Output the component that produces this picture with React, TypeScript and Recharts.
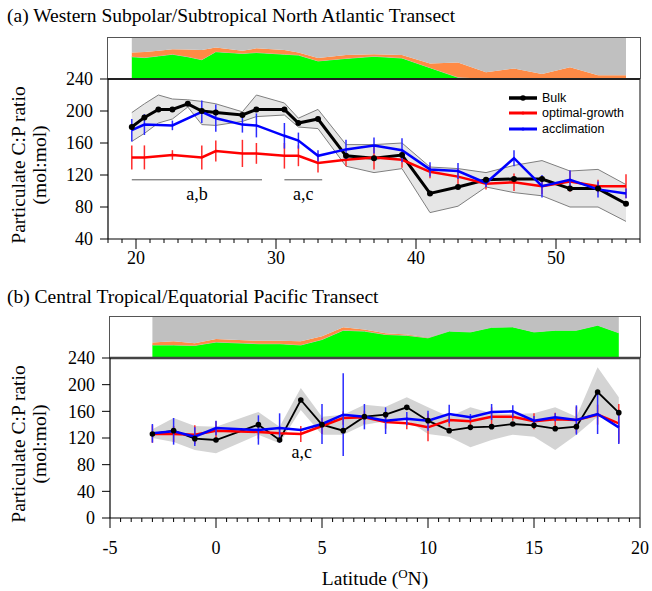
import React from 'react';
import {
  ComposedChart,
  AreaChart,
  Area,
  Line,
  XAxis,
  YAxis,
  ErrorBar,
  ReferenceLine,
  ReferenceDot,
  Legend,
} from 'recharts';

const SERIF = '"Liberation Serif", Tinos, "DejaVu Serif", "Noto Serif", serif';
const SANS = '"Liberation Sans", Arial, Helvetica, sans-serif';

// (a) Western Subpolar/Subtropical North Atlantic
const atlLat = [19.7, 20.6, 21.6, 22.6, 23.7, 24.7, 25.7, 27.6, 28.6, 30.6, 31.6, 33, 35, 37, 39, 41, 43, 45, 47, 49, 51, 53, 55];
const atlBulk = [180, 192, 202, 202, 209, 200, 198, 195, 202, 202, 185, 190, 144, 141, 145, 97, 105, 114, 115, 115, 103, 103, 84];
const atlBulkHi = [198, 209, 220, 215, 214, 212, 209, 199, 220, 210, 191, 202, 158, 158, 160, 130, 128, 123, 132, 138, 125, 127, 108];
const atlBulkLo = [162, 172, 185, 190, 205, 183, 182, 187, 193, 195, 180, 178, 131, 123, 128, 73, 81, 105, 98, 94, 80, 80, 62];
const atlOpt = [142, 142, null, 145, null, 142, 150, 147, 147, 144, 144, 135, 139, 142, 139, 124, 118, 109, 111, 106, 112, 106, 106];
const atlOptErr = [15, 15, null, 6, null, 15, 13, 17, 13, 16, 13, 12, 8, 15, 10, 8, 10, 7, 11, 10, 13, 8, 15];
const atlAcc = [176, 183, null, 182, null, 199, 191, 183, 182, 169, 163, 144, 152, 157, 151, 127, 125, 110, 141, 106, 114, 102, 97];
const atlAccErr = [14, 13, null, 6, null, 14, 17, 10, 15, 16, 10, 7, 12, 10, 15, 9, 10, 5, 10, 14, 12, 10, 6];
// community strip (% of total)
const atlGreen = [53, 51, 55, 59, 53, 46, 65, 61, 63, 59, 57, 43, 49, 54, 50, 27, 4, 0, 0, 0, 0, 0, 0];
const atlOrange = [10, 13, 12, 12, 17, 23, 10, 6, 10, 10, 6, 7, 8, 5, 7, 10, 35, 16, 25, 12, 28, 9, 9];

// (b) Central Tropical/Equatorial Pacific
const pacLat = [-3, -2, -1, 0, 2, 3, 4, 5, 6, 7, 8, 9, 10, 11, 12, 13, 14, 15, 16, 17, 18, 19];
const pacBulk = [126, 131, 119, 117, 140, 117, 177, 140, 131, 152, 155, 166, 146, 131, 136, 137, 141, 139, 134, 137, 189, 158];
const pacBulkHi = [133, 150, 138, 137, 159, 137, 195, 152, 155, 170, 167, 181, 166, 152, 166, 157, 156, 157, 166, 152, 226, 181];
const pacBulkLo = [120, 114, 102, 97, 125, 112, 162, 125, 125, 140, 145, 147, 126, 122, 106, 117, 125, 122, 102, 125, 152, 145];
const pacOpt = [126, 126, 125, 131, 129, 127, 126, 138, 150, 151, 144, 142, 136, 147, 145, 152, 152, 145, 148, 147, 155, 142];
const pacOptErr = [13, 12, 14, 14, 10, 10, 12, 12, 10, 10, 10, 9, 21, 10, 8, 14, 6, 12, 10, 20, 15, 29];
const pacAcc = [127, 130, 122, 135, 132, 135, 132, 141, 155, 152, 146, 149, 146, 156, 151, 159, 160, 146, 151, 147, 156, 136];
const pacAccErr = [14, 20, 14, 11, 22, 22, 0, 30, 62, 19, 20, 10, 15, 14, 5, 12, 9, 7, 6, 22, 30, 25];
const pacGreen = [31, 31, 30, 38, 34, 34, 31, 44, 66, 64, 56, 54, 48, 64, 62, 73, 74, 62, 66, 66, 78, 60];
const pacOrange = [6, 9, 5, 7, 7, 7, 9, 8, 7, 4, 3, 2, 1, 0, 0, 0, 0, 0, 0, 0, 0, 0];

const seriesNames = ['Bulk', 'optimal-growth', 'acclimation'];

// axes
const atlDomain = [18, 56];
const pacDomain = [-5, 20];
const atlMajor = [20, 30, 40, 50];
const pacMajor = [-5, 0, 5, 10, 15, 20];
const atlYTicks = [40, 80, 120, 160, 200, 240];
const pacYTicks = [0, 40, 80, 120, 160, 200, 240];

function steps(a: number, b: number, step: number) {
  const out: number[] = [];
  for (let v = a; v <= b + 1e-9; v += step) out.push(Math.round(v * 10) / 10);
  return out;
}
const atlXTicks = steps(18, 56, 1);
const pacXTicks = steps(-5, 20, 0.5);

const mainRows = (lat: number[], bulk: number[], lo: number[], hi: number[], opt: any[], optErr: any[], acc: any[], accErr: any[]) =>
  lat.map((l, i) => ({
    lat: l,
    bulk: bulk[i],
    band: [lo[i], hi[i]],
    opt: opt[i],
    optErr: optErr[i],
    acc: acc[i],
    accErr: accErr[i],
  }));

const stripRows = (lat: number[], green: number[], orange: number[]) =>
  lat.map((l, i) => ({ lat: l, green: green[i], orange: orange[i], rest: 100 - green[i] - orange[i] }));

const atlData = mainRows(atlLat, atlBulk, atlBulkLo, atlBulkHi, atlOpt, atlOptErr, atlAcc, atlAccErr);
const pacData = mainRows(pacLat, pacBulk, pacBulkLo, pacBulkHi, pacOpt, pacOptErr, pacAcc, pacAccErr);
const atlStrip = stripRows(atlLat, atlGreen, atlOrange);
const pacStrip = stripRows(pacLat, pacGreen, pacOrange);

const makeLatTick = (major: number[], labelDy: number) => (props: any) => {
  const { x, y, payload } = props;
  const isMajor = major.includes(payload.value);
  return (
    <g>
      <line x1={x} x2={x} y1={y} y2={y + (isMajor ? 10 : 4)} stroke="#000" strokeWidth={1} />
      {isMajor && (
        <text x={x} y={y + labelDy} textAnchor="middle" fontFamily={SERIF} fontSize={18} fill="#000">
          {payload.value}
        </text>
      )}
    </g>
  );
};

const yTitle = (props: any) => {
  const { viewBox } = props;
  const cy = viewBox.y + viewBox.height / 2 + 6;
  const x1 = viewBox.x + 18;
  const x2 = viewBox.x + 39;
  return (
    <g fontFamily={SERIF} fontSize={19.5} fill="#000">
      <text x={x1} y={cy} transform={`rotate(-90 ${x1} ${cy})`} textAnchor="middle" dominantBaseline="central">
        Particulate C:P ratio
      </text>
      <text x={x2} y={cy} transform={`rotate(-90 ${x2} ${cy})`} textAnchor="middle" dominantBaseline="central">
        (mol:mol)
      </text>
    </g>
  );
};

const latTitle = (props: any) => {
  const { viewBox } = props;
  const cx = viewBox.x + viewBox.width / 2;
  return (
    <text x={cx} y={viewBox.y + 67} textAnchor="middle" fontFamily={SERIF} fontSize={19.5} fill="#000">
      Latitude (<tspan fontSize={13} dy={-7}>O</tspan>
      <tspan dy={7}>N)</tspan>
    </text>
  );
};

const legendContent = (props: any) => {
  const items = (props.payload || [])
    .filter((e: any) => e.type !== 'none' && seriesNames.includes(e.value))
    .sort((a: any, b: any) => seriesNames.indexOf(a.value) - seriesNames.indexOf(b.value));
  return (
    <div style={{ fontFamily: SANS, fontSize: 12.5, color: '#000' }}>
      {items.map((e: any) => (
        <div key={e.value} style={{ display: 'flex', alignItems: 'center', height: 15.5 }}>
          <svg width={30} height={10}>
            <line x1={1} x2={29} y1={5} y2={5} stroke={e.color} strokeWidth={e.value === 'Bulk' ? 3.5 : 3} />
            <circle cx={15} cy={5} r={e.value === 'Bulk' ? 2.8 : 1.6} fill={e.color} />
          </svg>
          <span style={{ marginLeft: 4 }}>{e.value}</span>
        </div>
      ))}
    </div>
  );
};

function Strip({ data, domain, left, top, width }: any) {
  return (
    <div style={{ position: 'absolute', left, top, width, height: 42 }}>
      <AreaChart width={width} height={42} data={data} margin={{ top: 0, right: 0, bottom: 0, left: 0 }}>
        <XAxis dataKey="lat" type="number" domain={domain} allowDataOverflow hide />
        <YAxis type="number" domain={[0, 100]} allowDataOverflow hide />
        <Area dataKey="green" stackId="s" type="linear" fill="#00ff00" fillOpacity={1} stroke="#c4c4c4" strokeWidth={1} dot={false} activeDot={false} isAnimationActive={false} />
        <Area dataKey="orange" stackId="s" type="linear" fill="#ff8a45" fillOpacity={1} stroke="none" dot={false} activeDot={false} isAnimationActive={false} />
        <Area dataKey="rest" stackId="s" type="linear" fill="#c0c0c0" fillOpacity={1} stroke="none" dot={false} activeDot={false} isAnimationActive={false} />
      </AreaChart>
      <div
        style={{
          position: 'absolute',
          left: 0,
          top: 0,
          right: 0,
          bottom: 0,
          borderTop: '1.5px solid #555',
          borderLeft: '1.5px solid #555',
          borderRight: '1.5px solid #555',
          boxSizing: 'border-box',
          pointerEvents: 'none',
          marginLeft: -0.75,
          marginRight: -0.75,
        }}
      />
    </div>
  );
}

const yTick = { fontFamily: SERIF, fontSize: 18, fill: '#000' };
const noteStyle = { fontFamily: SERIF, fontSize: 18, fill: '#000' };

export default function App() {
  return (
    <div style={{ position: 'absolute', left: 0, top: 0, width: 652, height: 591, background: '#fff', fontFamily: SERIF }}>
      <div style={{ position: 'absolute', left: 7, top: 5, fontSize: 19.5, lineHeight: '22px', whiteSpace: 'nowrap' }}>
        (a) Western Subpolar/Subtropical North Atlantic Transect
      </div>
      <Strip data={atlStrip} domain={atlDomain} left={108} top={37} width={532} />
      <div style={{ position: 'absolute', left: 0, top: 0 }}>
        <ComposedChart width={652} height={280} data={atlData} margin={{ top: 79, right: 12, bottom: 0, left: 0 }}>
          <XAxis
            dataKey="lat"
            type="number"
            domain={atlDomain}
            allowDataOverflow
            ticks={atlXTicks}
            interval={0}
            tick={makeLatTick(atlMajor, 25)}
            tickLine={false}
            tickSize={0}
            tickMargin={0}
            axisLine={{ stroke: '#000', strokeWidth: 1.2 }}
            height={41}
          />
          <YAxis
            type="number"
            domain={[40, 240]}
            allowDataOverflow
            ticks={atlYTicks}
            interval={0}
            width={108}
            tickSize={8}
            tickMargin={7}
            tick={yTick}
            tickLine={{ stroke: '#000' }}
            axisLine={{ stroke: '#000', strokeWidth: 1.2 }}
            label={{ content: yTitle }}
          />
          <Area dataKey="band" type="linear" fill="#e6e6e6" fillOpacity={1} stroke="#7f7f7f" strokeWidth={1} legendType="none" dot={false} activeDot={false} isAnimationActive={false} />
          <Line dataKey="bulk" name="Bulk" type="linear" stroke="#000" strokeWidth={3} dot={{ r: 3, fill: '#000', stroke: '#000', strokeWidth: 0 }} activeDot={false} isAnimationActive={false} />
          <Line dataKey="opt" name="optimal-growth" type="linear" stroke="#ff0000" strokeWidth={2.5} dot={false} activeDot={false} connectNulls isAnimationActive={false}>
            <ErrorBar dataKey="optErr" width={0} stroke="#ff2b2b" strokeWidth={1.5} />
          </Line>
          <Line dataKey="acc" name="acclimation" type="linear" stroke="#0000ff" strokeWidth={2.5} dot={false} activeDot={false} connectNulls isAnimationActive={false}>
            <ErrorBar dataKey="accErr" width={0} stroke="#2b2bff" strokeWidth={1.5} />
          </Line>
          <ReferenceLine y={240} stroke="#222" strokeWidth={2} />
          <ReferenceLine x={56} stroke="#333" strokeWidth={1.2} />
          <ReferenceLine
            segment={[{ x: 19.7, y: 114 }, { x: 29, y: 114 }]}
            stroke="#555"
            strokeWidth={1}
            label={{ value: 'a,b', position: 'bottom', offset: 7, ...noteStyle }}
          />
          <ReferenceLine
            segment={[{ x: 30.6, y: 114 }, { x: 33.3, y: 114 }]}
            stroke="#555"
            strokeWidth={1}
            label={{ value: 'a,c', position: 'bottom', offset: 7, ...noteStyle }}
          />
          <Legend layout="vertical" align="center" verticalAlign="middle" content={legendContent} wrapperStyle={{ left: 508, top: 90, width: 'auto', height: 'auto' }} />
        </ComposedChart>
      </div>

      <div style={{ position: 'absolute', left: 7, top: 286, fontSize: 19.5, lineHeight: '22px', whiteSpace: 'nowrap' }}>
        (b) Central Tropical/Equatorial Pacific Transect
      </div>
      <Strip data={pacStrip} domain={pacDomain} left={110} top={316} width={530} />
      <div style={{ position: 'absolute', left: 0, top: 280 }}>
        <ComposedChart width={652} height={311} data={pacData} margin={{ top: 78, right: 12, bottom: 0, left: 0 }}>
          <XAxis
            dataKey="lat"
            type="number"
            domain={pacDomain}
            allowDataOverflow
            ticks={pacXTicks}
            interval={0}
            tick={makeLatTick(pacMajor, 36)}
            tickLine={false}
            tickSize={0}
            tickMargin={0}
            axisLine={{ stroke: '#000', strokeWidth: 1.2 }}
            height={73}
            label={{ content: latTitle }}
          />
          <YAxis
            type="number"
            domain={[0, 240]}
            allowDataOverflow
            ticks={pacYTicks}
            interval={0}
            width={110}
            tickSize={8}
            tickMargin={7}
            tick={yTick}
            tickLine={{ stroke: '#000' }}
            axisLine={{ stroke: '#000', strokeWidth: 1.2 }}
            label={{ content: yTitle }}
          />
          <Area dataKey="band" type="linear" fill="#d4d4d4" fillOpacity={1} stroke="none" legendType="none" dot={false} activeDot={false} isAnimationActive={false} />
          <Line dataKey="bulk" name="Bulk" type="linear" stroke="#000" strokeWidth={1.8} dot={{ r: 2.8, fill: '#000', stroke: '#000', strokeWidth: 0 }} activeDot={false} isAnimationActive={false} />
          <Line dataKey="opt" name="optimal-growth" type="linear" stroke="#ff0000" strokeWidth={2.5} dot={false} activeDot={false} isAnimationActive={false}>
            <ErrorBar dataKey="optErr" width={0} stroke="#ff2b2b" strokeWidth={1.5} />
          </Line>
          <Line dataKey="acc" name="acclimation" type="linear" stroke="#0000ff" strokeWidth={2.5} dot={false} activeDot={false} isAnimationActive={false}>
            <ErrorBar dataKey="accErr" width={0} stroke="#2b2bff" strokeWidth={1.5} />
          </Line>
          <ReferenceLine y={240} stroke="#444" strokeWidth={2.5} />
          <ReferenceLine x={20} stroke="#333" strokeWidth={1.2} />
          <ReferenceDot
            x={4.05}
            y={100}
            r={0}
            fill="none"
            stroke="none"
            label={{ value: 'a,c', position: 'center', ...noteStyle }}
          />
        </ComposedChart>
      </div>
    </div>
  );
}
